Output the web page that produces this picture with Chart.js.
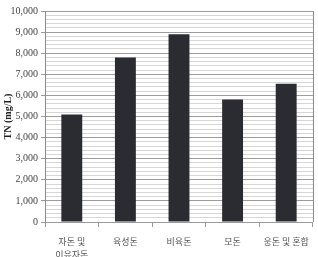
<!DOCTYPE html>
<html lang="ko">
<head>
  <meta charset="UTF-8">
  <title>TN chart</title>
  <script src="https://cdn.jsdelivr.net/npm/chart.js"></script>
  <style>
    html, body { margin: 0; padding: 0; background: #fff; }
    #wrap { width: 318px; height: 257px; position: relative; }
  </style>
</head>
<body>

<div id="wrap">
  <canvas id="myChart" width="318" height="257"></canvas>
</div>

<script>
  // data
  let categories = [["자돈 및", "이유자돈"], "육성돈", "비육돈", "모돈", "웅돈 및 혼합"];
  let tnValues = [5100, 7800, 8900, 5800, 6550];
  let yMin = 0;
  let yMax = 10000;
  let yMajorStep = 1000;
  let yMinorStep = 200;

  // right edge of the plot frame
  const frame = {
    id: 'frame',
    afterDraw(chart) {
      const a = chart.chartArea;
      const c = chart.ctx;
      c.save();
      c.strokeStyle = '#8a8a8a';
      c.lineWidth = 1;
      c.beginPath();
      c.moveTo(a.right + 0.5, a.top);
      c.lineTo(a.right + 0.5, a.bottom);
      c.stroke();
      c.restore();
    }
  };

  const ctx = document.getElementById('myChart').getContext('2d');

  const myChart = new Chart(ctx, {
    type: 'bar',
    data: {
      labels: categories,
      datasets: [
        {
          label: 'TN',
          data: tnValues,
          backgroundColor: '#2b2c31',
          borderWidth: 0,
          barPercentage: 0.39,
          categoryPercentage: 1
        }
      ]
    },
    options: {
      responsive: false,
      animation: false,
      layout: { padding: { top: 11, right: 1, left: 0, bottom: 0 } },
      plugins: {
        legend: { display: false },
        tooltip: { enabled: false }
      },
      scales: {
        x: {
          grid: {
            offset: true,
            drawOnChartArea: false,
            tickLength: 5,
            tickColor: '#9a9a9a'
          },
          border: { color: '#9a9a9a' },
          ticks: {
            color: '#555',
            padding: 9,
            maxRotation: 0,
            autoSkip: false,
            font: { family: '"Noto Sans CJK KR"', size: 9, lineHeight: 1.35 }
          },
          afterFit(scale) { scale.height = 35; }
        },
        y: {
          min: yMin,
          max: yMax,
          title: {
            display: true,
            text: 'TN (mg/L)',
            color: '#222',
            padding: { top: 2, bottom: 3 },
            font: { family: '"Liberation Serif"', size: 10, weight: 'bold' }
          },
          ticks: {
            stepSize: yMinorStep,
            autoSkip: false,
            color: '#444',
            padding: 3,
            font: { family: '"Liberation Serif"', size: 10 },
            callback: function (v) {
              if (v % yMajorStep !== 0) return '';
              return v.toLocaleString('en-US');
            }
          },
          grid: {
            color: function (c) {
              return c.tick && c.tick.value % yMajorStep === 0 ? '#9c9c9c' : '#d6d6d6';
            },
            tickColor: function (c) {
              return c.tick && c.tick.value % yMajorStep === 0 ? '#9c9c9c' : 'rgba(0,0,0,0)';
            },
            tickLength: 4
          },
          border: { color: '#8a8a8a' },
          afterFit(scale) { scale.width = 45; }
        }
      }
    },
    plugins: [frame]
  });
</script>

</body>
</html>
